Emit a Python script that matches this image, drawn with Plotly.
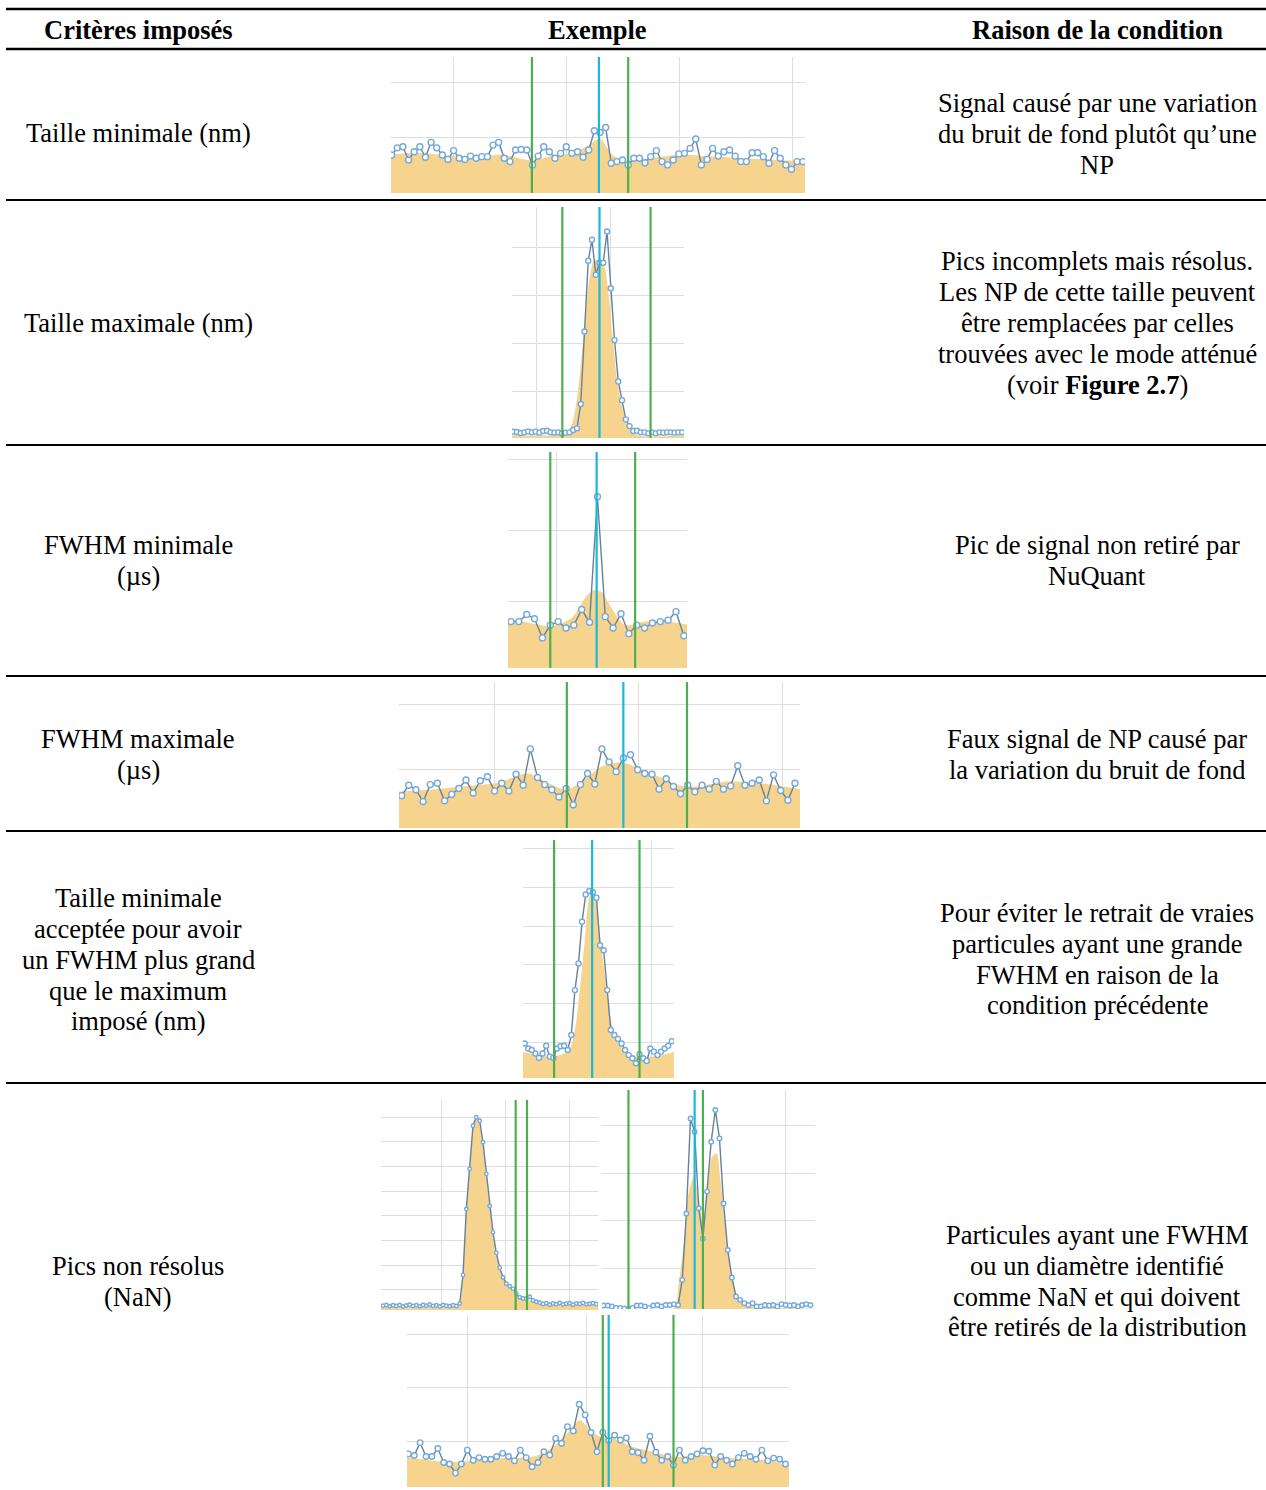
import plotly.graph_objects as go

W, H = 1266, 1490

# ---------------------------------------------------------------- text ----
entetes = ["Critères imposés", "Exemple", "Raison de la condition"]

criteres = [
    ["Taille minimale (nm)"],
    ["Taille maximale (nm)"],
    ["FWHM minimale", "(µs)"],
    ["FWHM maximale", "(µs)"],
    ["Taille minimale", "acceptée pour avoir", "un FWHM plus grand",
     "que le maximum", "imposé (nm)"],
    ["Pics non résolus", "(NaN)"],
]

raisons = [
    ["Signal causé par une variation", "du bruit de fond plutôt qu’une", "NP"],
    ["Pics incomplets mais résolus.", "Les NP de cette taille peuvent",
     "être remplacées par celles", "trouvées avec le mode atténué",
     "(voir <b>Figure 2.7</b>)"],
    ["Pic de signal non retiré par", "NuQuant"],
    ["Faux signal de NP causé par", "la variation du bruit de fond"],
    ["Pour éviter le retrait de vraies", "particules ayant une grande",
     "FWHM en raison de la", "condition précédente"],
    ["Particules ayant une FWHM", "ou un diamètre identifié",
     "comme NaN et qui doivent", "être retirés de la distribution"],
]

# ------------------------------------------------------------- signals ----
# Each example: raw signal (points), smoothed envelope (filled area),
# peak limits (green) and peak centre (cyan), in sample index units.
taille_min_signal = [6.9, 8.2, 8.4, 6.0, 7.5, 8.4, 6.5, 9.2, 8.2, 6.9,
                     6.1, 7.7, 6.3, 6.1, 6.7, 6.3, 6.6, 6.6, 8.7, 9.2,
                     6.3, 5.7, 7.8, 7.9, 7.8, 5.1, 6.7, 8.4, 7.5, 6.3,
                     7.2, 8.4, 7.2, 7.5, 6.5, 7.8, 11.3, 11.0, 11.9, 5.4,
                     5.7, 6.0, 5.1, 6.3, 6.3, 5.5, 6.6, 7.7, 5.7, 5.1,
                     6.0, 7.1, 7.2, 8.1, 9.8, 5.1, 6.1, 8.1, 6.7, 7.5,
                     7.8, 6.7, 5.7, 5.7, 7.3, 7.3, 6.6, 5.4, 7.7, 6.3,
                     5.1, 4.3, 5.7, 5.7]
taille_min_lisse_x = [-1, 0, 4.7, 10.7, 16.6, 19.5, 24.9, 28.4, 32.0, 34.9,
                      37.0, 39.1, 41.4, 46.2, 52.1, 55.6, 60.9, 66.9, 73.4, 75]
taille_min_lisse_y = [7.0, 7.0, 7.3, 6.7, 6.7, 7.0, 5.9, 6.7, 7.3, 8.6,
                      9.9, 7.0, 5.9, 6.4, 7.0, 6.7, 6.4, 6.1, 5.8, 5.8]
taille_min_bornes = [24.9, 42.0]
taille_min_centre = [36.8]

taille_max_signal = [1.74, 1.67, 1.46, 1.6, 1.8, 1.6, 1.74, 1.53, 1.88, 1.94,
                     1.6, 1.53, 1.6, 1.39, 1.53, 1.6, 2.08, 2.43, 7.5, 22.6,
                     37.3, 41.7, 34.4, 36.9, 36.9, 43.4, 31.6, 20.8, 12.2, 8.3,
                     4.3, 2.9, 1.88, 1.94, 1.6, 1.6, 1.39, 1.6, 1.39, 1.6,
                     1.53, 1.6, 1.6, 1.53, 1.6, 1.6]
taille_max_lisse_x = [-1, 12.7, 14.2, 15.9, 17.6, 19.0, 20.4, 21.6, 23.1, 24.3,
                      25.2, 26.4, 27.7, 29.1, 30.8, 33.2, 46]
taille_max_lisse_y = [1.0, 1.0, 1.2, 3.8, 12.5, 24.3, 34.0, 37.4, 37.2, 36.1,
                      31.9, 22.2, 12.5, 6.6, 2.6, 1.0, 1.0]
taille_max_bornes = [13.1, 36.6]
taille_max_centre = [23.0]

fwhm_min_signal = [7.1, 7.1, 8.1, 7.5, 4.8, 6.6, 7.1, 6.2, 6.6, 8.8,
                   7.0, 24.7, 7.8, 6.2, 8.2, 5.4, 6.6, 6.2, 6.9, 7.1,
                   7.3, 8.5, 5.1]
fwhm_min_lisse_x = [-1, 3.5, 5.0, 7.7, 9.4, 10.5, 11.5, 12.8, 14.5, 17.0, 19.6, 23]
fwhm_min_lisse_y = [7.6, 6.7, 6.4, 7.6, 10.4, 11.5, 11.3, 9.0, 6.6, 7.1, 7.1, 6.6]
fwhm_min_bornes = [5.0, 15.8]
fwhm_min_centre = [10.9]

fwhm_max_signal = [5.9, 7.5, 6.8, 5.0, 7.6, 7.8, 5.1, 6.1, 7.0, 8.3,
                   6.3, 8.2, 8.8, 6.6, 7.8, 6.6, 9.2, 7.5, 13.1, 8.7,
                   7.6, 6.8, 5.7, 7.0, 4.5, 7.6, 9.3, 7.7, 13.1, 11.1,
                   9.6, 11.7, 12.2, 9.9, 9.3, 9.2, 6.9, 8.5, 7.3, 6.2,
                   7.5, 6.5, 7.5, 6.9, 8.1, 6.9, 7.4, 10.5, 7.5, 7.8,
                   8.3, 5.1, 9.1, 6.7, 5.2, 7.8]
fwhm_max_lisse_x = [-1, 3.7, 8.4, 13.1, 17.7, 20.0, 23.1, 25.2, 28.0, 30.8,
                    32.6, 35.4, 38.7, 41.0, 45.7, 50.3, 56.5]
fwhm_max_lisse_y = [6.5, 6.8, 7.3, 7.8, 9.3, 8.1, 6.8, 8.1, 10.4, 11.0,
                    10.4, 9.1, 7.5, 7.3, 8.1, 7.8, 6.8]
fwhm_max_bornes = [23.1, 39.9]
fwhm_max_centre = [31.0]

seuil_signal = [9.7, 8.4, 8.0, 7.1, 6.0, 7.1, 9.1, 6.3, 6.0, 8.4,
                9.0, 9.1, 8.0, 11.9, 23.5, 30.4, 41.2, 48.2, 49.1, 48.8,
                47.4, 35.1, 33.8, 23.5, 13.2, 11.9, 10.9, 9.7, 8.0, 6.7,
                5.9, 4.6, 6.9, 5.9, 5.2, 8.4, 7.6, 6.7, 7.6, 8.4,
                9.1, 10.3]
seuil_lisse_x = [-1, 7.4, 12.1, 13.9, 15.3, 16.7, 18.1, 19.0, 19.9, 21.3,
                 22.7, 24.1, 26.0, 29.7, 35.3, 42]
seuil_lisse_y = [7.6, 6.3, 7.6, 12.7, 23.1, 36.0, 48.1, 49.4, 46.3, 35.1,
                 24.8, 15.3, 10.2, 6.7, 6.3, 7.6]
seuil_bornes = [8.2, 32.0]
seuil_centre = [18.8]

nan_a_signal = [3.6, 3.9, 3.4, 3.8, 3.5, 3.9, 3.3, 3.7, 4.0, 3.5,
                3.8, 3.4, 3.9, 3.6, 4.1, 3.5, 3.8, 3.3, 3.9, 3.6,
                3.4, 3.8, 3.5, 4.5, 16.0, 42.8, 59.0, 76.5, 79.9, 78.5,
                69.8, 57.0, 44.0, 33.3, 25.0, 19.0, 15.0, 12.5, 11.5, 10.5,
                8.5, 7.0, 6.5, 6.5, 7.2, 5.7, 5.2, 4.8, 4.3, 4.6,
                4.0, 4.5, 4.2, 4.7, 4.1, 4.4, 4.6, 4.0, 4.5, 4.3,
                4.7, 4.2, 4.4, 4.6, 4.3]
nan_a_lisse_x = [-1, 22, 23, 24, 25, 26, 27, 28, 29, 30, 31, 32, 33, 34,
                 35, 36, 38, 40, 42, 45, 48, 65]
nan_a_lisse_y = [3.5, 3.5, 4.5, 16, 42, 59, 76, 80, 78, 69, 56, 44, 33, 25,
                 19, 15, 11.5, 8.5, 6.5, 5.5, 4.3, 4.3]
nan_a_bornes = [39.8, 43.2]
nan_a_centre = []

nan_b_signal = [2.1, 2.1, 1.9, 1.6, 1.6, 1.5, 1.4, 1.6, 2.1, 2.1,
                1.9, 1.6, 2.1, 2.2, 1.9, 2.2, 2.2, 2.4, 2.2, 7.5,
                21.5, 41.5, 38.7, 22.6, 16.2, 26.1, 36.6, 43.3, 37.3, 23.6,
                13.8, 8.0, 4.0, 3.3, 2.6, 2.2, 2.6, 1.9, 1.9, 2.2,
                2.1, 2.2, 1.9, 2.4, 2.2, 2.1, 2.2, 1.9, 2.2, 2.4,
                2.2]
nan_b_lisse_x = [-1, 16.9, 18.1, 19.4, 20.6, 21.8, 23.0, 24.0, 25.0, 26.2,
                 27.3, 28.2, 29.4, 30.6, 31.9, 33.5, 52]
nan_b_lisse_y = [1.5, 1.5, 6.4, 15.5, 26.1, 29.2, 24.7, 19.0, 26.1, 33.4,
                 34.1, 28.9, 19.0, 10.6, 5.0, 2.6, 1.5]
nan_b_bornes = [6.0, 24.0]
nan_b_centre = [22.0]

nan_c_signal = [7.6, 7.3, 9.7, 7.1, 7.1, 8.6, 6.0, 5.7, 4.0, 5.7,
                8.3, 6.4, 6.9, 6.6, 6.6, 7.1, 7.7, 7.1, 6.3, 8.3,
                6.9, 5.2, 6.0, 8.0, 7.4, 10.5, 9.6, 12.7, 11.9, 16.9,
                14.9, 11.6, 8.0, 11.6, 10.1, 11.1, 10.2, 10.6, 8.0, 7.8,
                6.4, 10.9, 7.9, 6.4, 7.1, 5.5, 8.3, 6.4, 7.1, 7.6,
                8.2, 8.1, 5.5, 7.1, 6.4, 5.7, 6.9, 7.7, 7.1, 6.6,
                8.3, 6.3, 6.8, 6.6, 5.7]
nan_c_lisse_x = [-1, 7.1, 15.6, 21.2, 24.6, 26.9, 29.1, 30.8, 32.5, 34.8,
                 38.2, 41.6, 45.0, 49.5, 55.2, 60.8, 65.5]
nan_c_lisse_y = [7.1, 6.1, 6.8, 7.1, 8.9, 11.4, 13.9, 12.1, 10.8, 10.5,
                 8.9, 8.0, 7.1, 7.4, 6.8, 6.4, 5.2]
nan_c_bornes = [33.0, 45.0]
nan_c_centre = [34.0]

# ------------------------------------------------------------- styling ----
POLICE = "Liberation Serif, Times New Roman, serif"
TAILLE = 26.5
FOND = "rgba(247, 212, 142, 1)"
LIGNE = "#64829f"
POINT = "#74a9dd"
VERT = "#4caf50"
CYAN = "#1cb8d8"
GRILLE = "#dedede"

# Panel boxes in pixels (left, right, top, bottom), axis ranges and grids
panneaux = [
    dict(sig=taille_min_signal, lx=taille_min_lisse_x, ly=taille_min_lisse_y,
         bornes=taille_min_bornes, centre=taille_min_centre,
         box=(391, 805, 57, 193), xr=[-0.12, 73.4], yr=[0, 24.7],
         xg=[10.9, 31.1, 51.2, 71.1], yg=[10, 20], ms=6),
    dict(sig=taille_max_signal, lx=taille_max_lisse_x, ly=taille_max_lisse_y,
         bornes=taille_max_bornes, centre=taille_max_centre,
         box=(512, 684, 207, 438), xr=[-0.3, 45.5], yr=[0.42, 48.5],
         xg=[6.3, 25.8], yg=[10, 20, 30, 40], ms=5),
    dict(sig=fwhm_min_signal, lx=fwhm_min_lisse_x, ly=fwhm_min_lisse_y,
         bornes=fwhm_min_bornes, centre=fwhm_min_centre,
         box=(508, 687, 452, 668), xr=[-0.38, 22.4], yr=[0.56, 31.0],
         xg=[5.85], yg=[10, 20, 30], ms=6),
    dict(sig=fwhm_max_signal, lx=fwhm_max_lisse_x, ly=fwhm_max_lisse_y,
         bornes=fwhm_max_bornes, centre=fwhm_max_centre,
         box=(399, 800, 682, 828), xr=[-0.37, 55.7], yr=[0.92, 23.4],
         xg=[13.05, 33.05, 53.2], yg=[10, 20], ms=6),
    dict(sig=seuil_signal, lx=seuil_lisse_x, ly=seuil_lisse_y,
         bornes=seuil_bornes, centre=seuil_centre,
         box=(523, 674, 840, 1078), xr=[-0.46, 41.6], yr=[0.78, 62.3],
         xg=[35.2], yg=[10, 20, 30, 40, 50, 60], ms=5),
    dict(sig=nan_a_signal, lx=nan_a_lisse_x, ly=nan_a_lisse_y,
         bornes=nan_a_bornes, centre=nan_a_centre,
         box=(381, 598, 1100, 1310), xr=[-0.6, 64.5], yr=[1.86, 86.9],
         xg=[17.4, 36.6, 55.8], yg=[10, 20, 30, 40, 50, 60, 70, 80], ms=3.5),
    dict(sig=nan_b_signal, lx=nan_b_lisse_x, ly=nan_b_lisse_y,
         bornes=nan_b_bornes, centre=nan_b_centre,
         box=(602, 815, 1090, 1309), xr=[-0.4, 51.1], yr=[1.37, 47.5],
         xg=[43.9], yg=[10, 20, 30, 40], ms=4.5),
    dict(sig=nan_c_signal, lx=nan_c_lisse_x, ly=nan_c_lisse_y,
         bornes=nan_c_bornes, centre=nan_c_centre,
         box=(407, 789, 1315, 1487), xr=[-0.23, 64.6], yr=[1.4, 33.6],
         xg=[9.96, 30.2, 50.0], yg=[10, 20, 30], ms=5.5),
]

# Table geometry (pixels)
lignes_table = [(9, 2.6), (49, 2.3), (200, 2), (445, 2), (676, 2), (831, 2), (1083, 2)]
col_centres = [138, 597, 1097]
entete_y = 30
criteres_y = [[133], [323], [545, 576], [739, 770],
              [898, 929, 960, 991, 1021], [1266, 1297]]
raisons_y = [[103, 134, 165], [261, 292, 323, 354, 385], [545, 576], [739, 770],
             [913, 944, 975, 1005], [1235, 1266, 1297, 1327]]

fig = go.Figure()
layout = {}
shapes = []

for i, p in enumerate(panneaux, start=1):
    sfx = "" if i == 1 else str(i)
    xa, ya = "x" + sfx, "y" + sfx
    x0, x1, y0, y1 = p["box"]
    fig.add_trace(go.Scatter(
        x=p["lx"], y=p["ly"], mode="lines", xaxis=xa, yaxis=ya,
        line=dict(width=0, shape="spline", smoothing=0.8),
        fill="tozeroy", fillcolor=FOND, hoverinfo="skip"))
    fig.add_trace(go.Scatter(
        x=list(range(len(p["sig"]))), y=p["sig"], mode="lines+markers",
        xaxis=xa, yaxis=ya,
        line=dict(color=LIGNE, width=1.4),
        marker=dict(size=p["ms"], color="white",
                    line=dict(color=POINT, width=1.4))))
    layout["xaxis" + sfx] = dict(
        domain=[x0 / W, x1 / W], range=p["xr"], anchor=ya,
        tickvals=p["xg"], showticklabels=False, ticks="", showgrid=True,
        gridcolor=GRILLE, gridwidth=1, zeroline=False, showline=False)
    layout["yaxis" + sfx] = dict(
        domain=[1 - y1 / H, 1 - y0 / H], range=p["yr"], anchor=xa,
        tickvals=p["yg"], showticklabels=False, ticks="", showgrid=True,
        gridcolor=GRILLE, gridwidth=1, zeroline=False, showline=False)
    for xb in p["bornes"]:
        shapes.append(dict(type="line", xref=xa, yref=ya + " domain",
                           x0=xb, x1=xb, y0=0, y1=1, layer="above",
                           line=dict(color=VERT, width=2.2)))
    for xc in p["centre"]:
        shapes.append(dict(type="line", xref=xa, yref=ya + " domain",
                           x0=xc, x1=xc, y0=0, y1=1, layer="above",
                           line=dict(color=CYAN, width=2.2)))

for y, w in lignes_table:
    shapes.append(dict(type="line", xref="paper", yref="paper",
                       x0=6 / W, x1=1, y0=1 - y / H, y1=1 - y / H,
                       line=dict(color="black", width=w)))

annotations = []


def texte(t, x, y, gras=False):
    annotations.append(dict(
        text=f"<b>{t}</b>" if gras else t, x=x / W, y=1 - y / H,
        xref="paper", yref="paper", xanchor="center", yanchor="middle",
        showarrow=False, font=dict(family=POLICE, size=TAILLE, color="black")))


for t, cx in zip(entetes, col_centres):
    texte(t, cx, entete_y, gras=True)
for rows, ys in zip(criteres, criteres_y):
    for t, y in zip(rows, ys):
        texte(t, col_centres[0], y)
for rows, ys in zip(raisons, raisons_y):
    for t, y in zip(rows, ys):
        texte(t, col_centres[2], y)

fig.update_layout(
    width=W, height=H, margin=dict(l=0, r=0, t=0, b=0),
    paper_bgcolor="white", plot_bgcolor="white", showlegend=False,
    shapes=shapes, annotations=annotations, **layout)

fig.write_html("out.html")
